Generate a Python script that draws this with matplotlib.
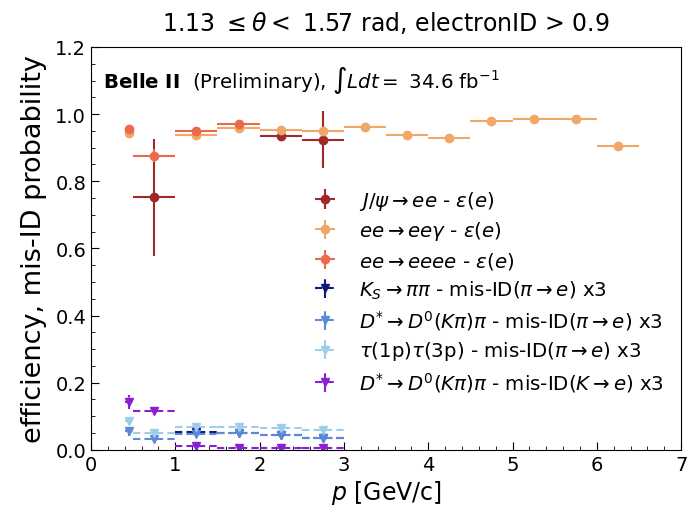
import matplotlib
matplotlib.use("Agg")
import matplotlib.pyplot as plt
from matplotlib.collections import LineCollection
import matplotlib.colors as mcolors
import numpy as np

# ---- data ----
jpsi_x = [0.75, 2.25, 2.75]
jpsi_y = [0.752, 0.934, 0.923]
jpsi_yerr = [0.175, 0.012, 0.085]
jpsi_xerr = [0.25, 0.25, 0.25]

eeg_x = [0.45, 1.25, 1.75, 2.25, 2.75, 3.25, 3.75, 4.25, 4.75, 5.25, 5.75, 6.25]
eeg_y = [0.945, 0.939, 0.958, 0.954, 0.951, 0.961, 0.938, 0.930, 0.978, 0.986, 0.984, 0.906]
eeg_xerr = [0.05] + [0.25] * 11
eeg_yerr = [0.004] * 12

eeee_x = [0.45, 0.75, 1.25, 1.75]
eeee_y = [0.957, 0.876, 0.950, 0.971]
eeee_xerr = [0.05, 0.25, 0.25, 0.25]
eeee_yerr = [0.005, 0.02, 0.006, 0.005]

ks_x = [1.25, 1.75, 2.25, 2.75]
ks_y = [0.052, 0.050, 0.043, 0.036]
ks_xerr = [0.25] * 4
ks_yerr = [0.004] * 4

dpi_x = [0.45, 0.75, 1.25, 1.75, 2.25, 2.75]
dpi_y = [0.055, 0.031, 0.047, 0.051, 0.043, 0.036]
dpi_xerr = [0.05, 0.25, 0.25, 0.25, 0.25, 0.25]
dpi_yerr = [0.015, 0.004, 0.004, 0.004, 0.004, 0.004]

tau_x = [0.45, 0.75, 1.25, 1.75, 2.25, 2.75]
tau_y = [0.085, 0.051, 0.069, 0.068, 0.066, 0.059]
tau_xerr = [0.05, 0.25, 0.25, 0.25, 0.25, 0.25]
tau_yerr = [0.008, 0.004, 0.004, 0.004, 0.004, 0.004]

dk_x = [0.45, 0.75, 1.25, 1.75, 2.25, 2.75]
dk_y = [0.143, 0.117, 0.011, 0.005, 0.004, 0.005]
dk_xerr = [0.05, 0.25, 0.25, 0.25, 0.25, 0.25]
dk_yerr = [0.02, 0.004, 0.003, 0.002, 0.002, 0.002]

labels = [
    r"$J/\psi \rightarrow ee$ - $\varepsilon(e)$",
    r"$ee \rightarrow ee\gamma$ - $\varepsilon(e)$",
    r"$ee \rightarrow eeee$ - $\varepsilon(e)$",
    r"$K_S \rightarrow \pi\pi$ - mis-ID$(\pi \rightarrow e)$ x3",
    r"$D^{*} \rightarrow D^0(K\pi)\pi$ - mis-ID$(\pi \rightarrow e)$ x3",
    r"$\tau$(1p)$\tau$(3p) - mis-ID$(\pi \rightarrow e)$ x3",
    r"$D^{*} \rightarrow D^0(K\pi)\pi$ - mis-ID$(K \rightarrow e)$ x3",
]

DASH = (0, (3.5, 2))
dashed_colors = []

fig = plt.figure(figsize=(6.95, 5.10), dpi=100)
ax = fig.add_axes([0.131, 0.116, 0.849, 0.790])

def eb(x, y, xe, ye, color, marker, label, dashed=False):
    c = ax.errorbar(x, y, xerr=xe, yerr=ye, fmt=marker, color=color, ms=6,
                    elinewidth=1.5, capsize=0, label=label)
    if dashed:
        dashed_colors.append(mcolors.to_rgba(color))
        for lc in c[2]:
            lc.set_linestyle(DASH)
    return c

eb(jpsi_x, jpsi_y, jpsi_xerr, jpsi_yerr, "#a0282a", "o", labels[0])
eb(eeg_x, eeg_y, eeg_xerr, eeg_yerr, "#f0a868", "o", labels[1])
eb(eeee_x, eeee_y, eeee_xerr, eeee_yerr, "#ec6a4c", "o", labels[2])
eb(ks_x, ks_y, ks_xerr, ks_yerr, "#0d1b7a", "v", labels[3], True)
eb(dpi_x, dpi_y, dpi_xerr, dpi_yerr, "#5b8ad8", "v", labels[4], True)
eb(tau_x, tau_y, tau_xerr, tau_yerr, "#9dcdea", "v", labels[5], True)
eb(dk_x, dk_y, dk_xerr, dk_yerr, "#8a1fd4", "v", labels[6], True)

ax.set_xlim(0, 7)
ax.set_ylim(0, 1.2)
ax.set_xticks(np.arange(0, 8, 1))
ax.set_yticks(np.arange(0, 1.21, 0.2))
ax.set_xticks(np.arange(0, 7.01, 0.2), minor=True)
ax.set_yticks(np.arange(0, 1.201, 0.05), minor=True)
ax.tick_params(which="both", direction="in", top=False, right=False, labelsize=14)
ax.tick_params(which="major", length=6)
ax.tick_params(which="minor", length=3)
ax.set_xticklabels([str(i) for i in range(8)])
ax.set_yticklabels(["0.0", "0.2", "0.4", "0.6", "0.8", "1.0", "1.2"])

ax.set_xlabel(r"$p$ [GeV/c]", fontsize=17, labelpad=3)
ax.set_ylabel("efficiency, mis-ID probability", fontsize=19.5, labelpad=6)
ax.set_title(r"1.13 $\leq\theta <$ 1.57 rad, electronID > 0.9", fontsize=17, pad=12)

ax.text(0.02, 0.92, r"$\bf{Belle\ II}$  (Preliminary), $\int Ldt = $ 34.6 fb$^{-1}$",
        transform=ax.transAxes, fontsize=14.2, va="center")

leg = ax.legend(loc="upper left", bbox_to_anchor=(0.34, 0.692), frameon=False,
                fontsize=14.2, handlelength=1.6, labelspacing=0.38, handletextpad=0.9)
for coll in leg.findobj(LineCollection):
    cols = coll.get_colors()
    if len(cols) and any(np.allclose(cols[0], dc) for dc in dashed_colors):
        coll.set_linestyle(DASH)

fig.savefig("out.png", dpi=100)
